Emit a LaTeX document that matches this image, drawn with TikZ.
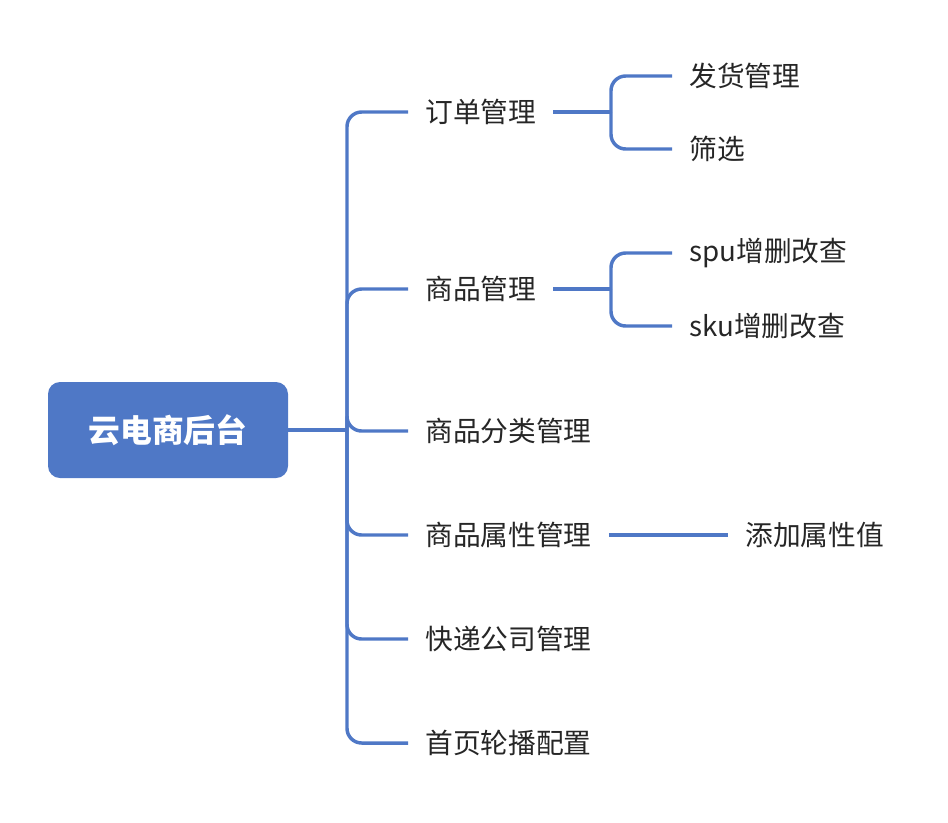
\documentclass[tikz,border=0pt]{standalone}
\usepackage{fontspec}
\setmainfont{Noto Sans CJK SC}
\definecolor{mblue}{HTML}{4F78C6}
\definecolor{mtext}{HTML}{262626}
\begin{document}
\begin{tikzpicture}[x=0.75pt,y=-0.75pt,
  conn/.style={draw=mblue,line width=2.6pt,rounded corners=11pt},
  topic/.style={anchor=west,inner xsep=12.75pt,inner ysep=0pt,text=mtext,font=\fontsize{20.8pt}{24pt}\selectfont},
  rootbox/.style={fill=mblue,rounded corners=9pt,minimum width=180pt,minimum height=72pt,inner sep=0pt,text=white,font=\fontsize{23.8pt}{27pt}\selectfont\bfseries}]
\useasboundingbox (0,0) rectangle (948,822);
\node[rootbox] (root) at (168,430) {云电商后台};
\coordinate (tr) at (347,430);
\node[topic] (l1) at (408,112) {订单管理};
\node[topic] (l2) at (408,289) {商品管理};
\node[topic] (l3) at (408,431) {商品分类管理};
\node[topic] (l4) at (408,535) {商品属性管理};
\node[topic] (l5) at (408,639) {快递公司管理};
\node[topic] (l6) at (408,743) {首页轮播配置};
\node[topic] (c1) at (672,76) {发货管理};
\node[topic] (c2) at (672,149) {筛选};
\node[topic] (c3) at (672,253) {spu增删改查};
\node[topic] (c4) at (672,326) {sku增删改查};
\node[topic] (c5) at (728,535) {添加属性值};
\coordinate (j1) at (611,112);
\coordinate (j2) at (611,289);
\draw[conn] (root.east) -- (tr);
\foreach \n in {l1,l2,l3,l4,l5,l6} \draw[conn] (tr) |- (\n.west);
\draw[conn] (l1.east) -- (j1);
\draw[conn] (j1) |- (c1.west);
\draw[conn] (j1) |- (c2.west);
\draw[conn] (l2.east) -- (j2);
\draw[conn] (j2) |- (c3.west);
\draw[conn] (j2) |- (c4.west);
\draw[conn] (l4.east) -- (c5.west);
\end{tikzpicture}
\end{document}
